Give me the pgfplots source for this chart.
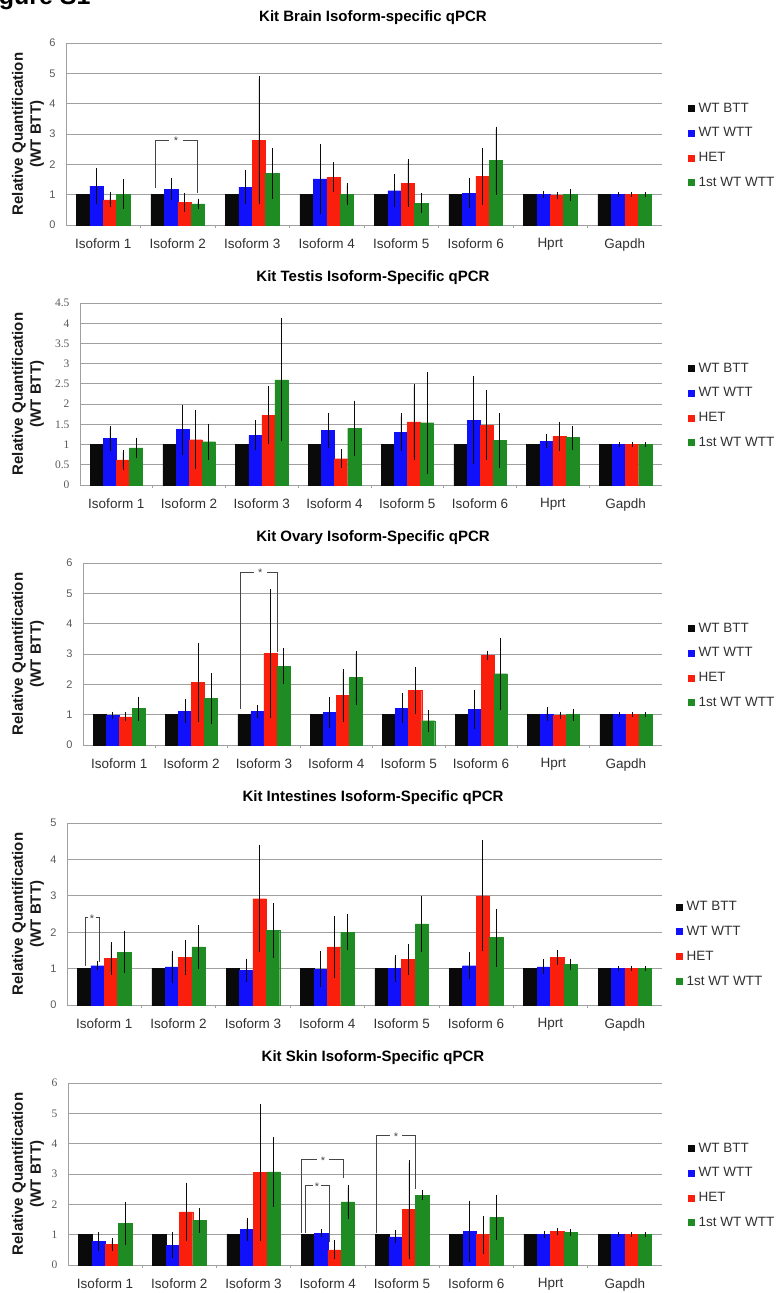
\documentclass[border=0pt]{standalone}
\usepackage{fontspec}
\setmainfont{Liberation Sans}
\newfontfamily\seriffont{Liberation Serif}
\usepackage{pgfplots}
\usepackage{pgfplotstable}
\pgfplotsset{compat=1.18}

\definecolor{cblack}{HTML}{0A0A0A}
\definecolor{cblue}{HTML}{1010FA}
\definecolor{cred}{HTML}{FA1E0C}
\definecolor{cgreen}{HTML}{1E8C23}
\definecolor{gridgray}{HTML}{A0A0A0}
\definecolor{ticktext}{HTML}{595959}
\definecolor{labeltext}{HTML}{303030}
\definecolor{sigline}{HTML}{454545}

\newcommand{\fs}[1]{\fontsize{#1}{#1}\selectfont}

% columns: group, WT BTT, WT WTT (+err), HET (+err), 1st WT WTT (+err)
\pgfplotstableread{
x btt wtt wtte het hete fst fste
0 1 1.28 0.50 0.83 0.15 1.02 0.40
1 1 1.18 0.27 0.75 0.22 0.70 0.08
2 1 1.25 0.47 2.80 2.02 1.70 0.75
3 1 1.52 1.06 1.58 0.40 1.02 0.28
4 1 1.13 0.45 1.38 0.70 0.72 0.23
5 1 1.05 0.40 1.60 0.85 2.12 1.03
6 1 1.00 0.03 0.97 0.03 1.00 0.10
7 1 1.00 0.00 1.00 0.00 1.00 0.00
}\brain
\pgfplotstableread{
x btt wtt wtte het hete fst fste
0 1 1.15 0.25 0.62 0.18 0.92 0.18
1 1 1.37 0.55 1.12 0.66 1.07 0.38
2 1 1.23 0.30 1.73 0.65 2.60 1.45
3 1 1.35 0.37 0.65 0.17 1.40 0.62
4 1 1.30 0.40 1.56 0.87 1.54 1.19
5 1 1.60 1.02 1.48 0.79 1.10 0.60
6 1 1.08 0.10 1.20 0.30 1.17 0.23
7 1 1.00 0.00 1.00 0.00 1.00 0.00
}\testis
\pgfplotstableread{
x btt wtt wtte het hete fst fste
0 1 0.98 0.03 0.93 0.05 1.20 0.30
1 1 1.12 0.30 2.07 1.21 1.53 0.75
2 1 1.10 0.13 3.02 2.03 2.60 0.50
3 1 1.07 0.41 1.63 0.77 2.22 0.80
4 1 1.22 0.40 1.80 0.67 0.80 0.27
5 1 1.17 0.56 2.95 0.07 2.35 1.10
6 1 1.02 0.13 0.98 0.03 1.00 0.10
7 1 1.00 0.00 1.00 0.00 1.00 0.00
}\ovary
\pgfplotstableread{
x btt wtt wtte het hete fst fste
0 1 1.08 0.05 1.28 0.37 1.45 0.50
1 1 1.05 0.37 1.30 0.40 1.60 0.52
2 1 0.95 0.25 2.92 1.40 2.05 0.67
3 1 0.98 0.42 1.60 0.78 2.00 0.42
4 1 1.00 0.30 1.25 0.35 2.23 0.70
5 1 1.08 0.29 3.00 1.45 1.85 0.72
6 1 1.05 0.13 1.30 0.13 1.12 0.08
7 1 1.00 0.00 1.00 0.00 1.00 0.00
}\intestines
\pgfplotstableread{
x btt wtt wtte het hete fst fste
0 1 0.78 0.22 0.68 0.12 1.37 0.63
1 1 0.65 0.33 1.75 0.87 1.47 0.31
2 1 1.17 0.30 3.05 2.15 3.07 1.06
3 1 1.05 0.03 0.50 0.22 2.08 0.47
4 1 0.93 0.12 1.83 1.54 2.30 0.07
5 1 1.10 0.92 1.00 0.53 1.57 0.66
6 1 1.00 0.03 1.10 0.03 1.07 0.03
7 1 1.00 0.00 1.00 0.00 1.00 0.00
}\skin

\pgfplotsset{
  eb/.style={error bars/y dir=both, error bars/y explicit,
    error bars/error bar style={cblack, line width=0.6pt},
    error bars/error mark options={cblack, line width=0.6pt, mark size=2.8pt}},
  kit/.style={
    scale only axis, height=182pt, anchor=south west,
    xmin=-0.5, xmax=7.5, ymin=0,
    ybar, bar width=0.18,
    axis x line*=bottom, axis y line*=left,
    axis line style={draw=gridgray, line width=0.8pt, -},
    ymajorgrids, grid style={draw=gridgray, line width=0.8pt},
    xtick={0,...,7},
    xticklabels={Isoform 1, Isoform 2, Isoform 3, Isoform 4, Isoform 5, Isoform 6, Hprt, Gapdh},
    major tick length=0pt,
    minor xtick={0.5,1.5,2.5,3.5,4.5,5.5,6.5},
    minor x tick style={draw=gridgray, line width=0.6pt},
    minor tick length=3pt, tick align=outside,
    ytick style={draw=none},
    x tick label style={font=\fs{13.5}, text=labeltext, yshift=-10pt},
    y tick label style={font=\fs{11}, text=ticktext, xshift=-7pt},
    /pgf/number format/assume math mode=true,
    legend cell align=left,
    legend style={draw=none, fill=none, font=\fs{13.5}, text=labeltext,
      row sep=10pt, column sep=2pt, inner sep=0pt},
    legend image code/.code={\fill[##1] (0pt,-3pt) rectangle (6pt,3pt);},
  },
}
\tikzset{sig/.style={draw=sigline, line width=0.7pt},
  star/.style={font=\fs{11}, text=sigline, inner sep=0pt, yshift=-1pt}}

\newcommand{\kitbars}[1]{%
  \addplot[fill=cblack, draw=cblack, bar shift=-0.27] table[x=x, y=btt] {#1};
  \addplot[fill=cblue, draw=cblue, bar shift=-0.09, eb] table[x=x, y=wtt, y error=wtte] {#1};
  \addplot[fill=cred, draw=cred, bar shift=0.09, eb] table[x=x, y=het, y error=hete] {#1};
  \addplot[fill=cgreen, draw=cgreen, bar shift=0.27, eb] table[x=x, y=fst, y error=fste] {#1};
  \legend{WT BTT, WT WTT, HET, 1st WT WTT}}

\newcommand{\ylab}[1]{\node[rotate=90, align=center, text=black!90,
  font=\bfseries\fontsize{15}{18}\selectfont] at (28pt,#1) {Relative Quantification\\(WT BTT)};}
\newcommand{\ptitle}[2]{\node[anchor=base, font=\bfseries\fs{15}] at (373pt,#1) {#2};}

\begin{document}
\begin{tikzpicture}
\useasboundingbox (0pt,0pt) rectangle (782pt,-1293pt);
\node[anchor=base west, font=\bfseries\fs{25}] at (-27pt,-4pt) {Figure S1};

% Brain
\begin{axis}[kit, at={(66pt,-225pt)}, width=596pt, ymax=6, ytick distance=1,
  legend style={at={(1.0436,0.437)}, anchor=west}]
\kitbars{\brain}
\draw[sig] (axis cs:0.695,1.22) |- (axis cs:0.88,2.8);
\draw[sig] (axis cs:1.07,2.8) -| (axis cs:1.258,1.05);
\node[star] at (axis cs:0.976,2.8) {*};
\end{axis}

% Testis
\begin{axis}[kit, at={(80pt,-485pt)}, width=582pt, ymax=4.5,
  ytick={0,0.5,1,1.5,2,2.5,3,3.5,4,4.5},
  y tick label style={font=\seriffont\fs{11.5}},
  legend style={at={(1.0447,0.437)}, anchor=west}]
\kitbars{\testis}
\end{axis}

% Ovary
\begin{axis}[kit, at={(83pt,-745pt)}, width=579pt, ymax=6, ytick distance=1,
  legend style={at={(1.0449,0.437)}, anchor=west}]
\kitbars{\ovary}
\draw[sig] (axis cs:1.68,1.2) |- (axis cs:1.86,5.7);
\draw[sig] (axis cs:2.04,5.7) -| (axis cs:2.18,3.08);
\node[star] at (axis cs:1.95,5.7) {*};
\end{axis}

% Intestines
\begin{axis}[kit, at={(67pt,-1005pt)}, width=595pt, ymax=5, ytick distance=1,
  legend style={at={(1.0235,0.335)}, anchor=west}]
\kitbars{\intestines}
\draw[sig] (axis cs:-0.26,1.08) |- (axis cs:-0.215,2.4);
\draw[sig] (axis cs:-0.115,2.4) -| (axis cs:-0.07,1.18);
\node[star] at (axis cs:-0.165,2.4) {*};
\end{axis}

% Skin
\begin{axis}[kit, at={(68pt,-1265pt)}, width=594pt, ymax=6, ytick distance=1,
  y tick label style={font=\seriffont\fs{11.5}},
  legend style={at={(1.0438,0.437)}, anchor=west}]
\kitbars{\skin}
\draw[sig] (axis cs:2.638,1.06) |- (axis cs:2.85,3.48);
\draw[sig] (axis cs:3.02,3.48) -| (axis cs:3.204,2.88);
\node[star] at (axis cs:2.934,3.48) {*};
\draw[sig] (axis cs:2.69,1.06) |- (axis cs:2.80,2.62);
\draw[sig] (axis cs:2.91,2.62) -| (axis cs:3.015,0.75);
\node[star] at (axis cs:2.854,2.62) {*};
\draw[sig] (axis cs:3.648,1.06) |- (axis cs:3.83,4.27);
\draw[sig] (axis cs:4.00,4.27) -| (axis cs:4.173,2.5);
\node[star] at (axis cs:3.917,4.27) {*};
\end{axis}

\ylab{-134pt}
\ylab{-394pt}
\ylab{-654pt}
\ylab{-914pt}
\ylab{-1174pt}
\ptitle{-21pt}{Kit Brain Isoform-specific qPCR}
\ptitle{-281pt}{Kit Testis Isoform-Specific qPCR}
\ptitle{-541pt}{Kit Ovary Isoform-Specific qPCR}
\ptitle{-801pt}{Kit Intestines Isoform-Specific qPCR}
\ptitle{-1061pt}{Kit Skin Isoform-Specific qPCR}
\end{tikzpicture}
\end{document}
